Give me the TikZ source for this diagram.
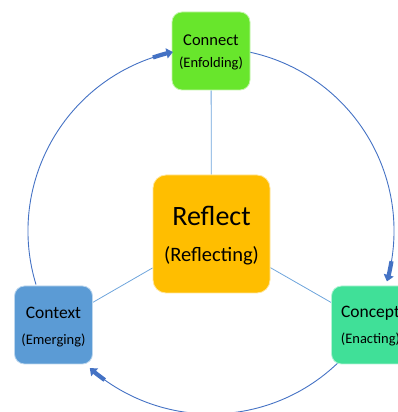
\documentclass[tikz,border=0pt]{standalone}
\usepackage{fontspec}
\setmainfont{Carlito}
\usetikzlibrary{arrows.meta,calc,backgrounds}
\definecolor{cgreen}{RGB}{104,230,44}
\definecolor{ramber}{RGB}{255,190,0}
\definecolor{xblue}{RGB}{91,155,213}
\definecolor{pmint}{RGB}{64,224,152}
\definecolor{ringblue}{RGB}{68,114,196}
\definecolor{spokeblue}{RGB}{110,165,220}
\begin{document}
\begin{tikzpicture}[x=1pt,y=1pt,
  box/.style={rounded corners=10pt, draw=white!60!#1, fill=#1, line width=0.8pt, inner sep=0pt, minimum width=78pt, minimum height=78pt},
  lbl/.style={inner sep=0pt, anchor=center, text=black},
  spoke/.style={draw=spokeblue, line width=0.8pt},
  ring/.style={draw=ringblue, line width=0.9pt},
  head/.style={draw=ringblue, line width=4.2pt, -{Triangle[width=10pt,length=6.5pt]}}]
\useasboundingbox (0,0) rectangle (398,412);
\coordinate (O) at (211,181);
% boxes
\node[box=cgreen] (cn) at (211,361) {};
\node[box=ramber, minimum width=117pt, minimum height=118pt, rounded corners=13pt] (rf) at (211.5,178) {};
\node[box=xblue] (cx) at (53.5,87) {};
\node[box=pmint] (cp) at (370.5,87) {};
% labels
\node[lbl, font=\fontsize{16.5}{19}\selectfont] (cn1) at (211,372) {Connect};
\node[lbl, font=\fontsize{14.5}{17}\selectfont] (cn2) at (211,349) {(Enfolding)};
\node[lbl, font=\fontsize{28}{32}\selectfont] (rf1) at (211.5,196) {Reflect};
\node[lbl, font=\fontsize{20.5}{24}\selectfont] (rf2) at (211.5,156) {(Reflecting)};
\node[lbl, font=\fontsize{17.5}{20}\selectfont] (cx1) at (53.5,99) {Context};
\node[lbl, font=\fontsize{14.5}{17}\selectfont] (cx2) at (53.5,72) {(Emerging)};
\node[lbl, font=\fontsize{17.5}{20}\selectfont] (cp1) at (370.5,99) {Concept};
\node[lbl, font=\fontsize{14.5}{17}\selectfont] (cp2) at (370.5,73) {(Enacting)};
% spokes and ring behind boxes
\begin{scope}[on background layer]
\draw[spoke] (rf) -- (cn);
\draw[spoke] (rf) -- (cx);
\draw[spoke] (rf) -- (cp);
\draw[ring] ($(O)+(197:183)$) arc[start angle=197, end angle=108, radius=183];
\draw[ring] ($(O)+(78:183)$) arc[start angle=78, end angle=-10, radius=183];
\draw[ring] ($(O)+(-46:183)$) arc[start angle=-46, end angle=-126, radius=183];
\end{scope}
\draw[head] ($(O)+(108.5:183)$) arc[start angle=108.5, end angle=102, radius=183];
\draw[head] ($(O)+(-9.5:183)$) arc[start angle=-9.5, end angle=-16, radius=183];
\draw[head] ($(O)+(-125.5:183)$) arc[start angle=-125.5, end angle=-131.5, radius=183];
\end{tikzpicture}
\end{document}
